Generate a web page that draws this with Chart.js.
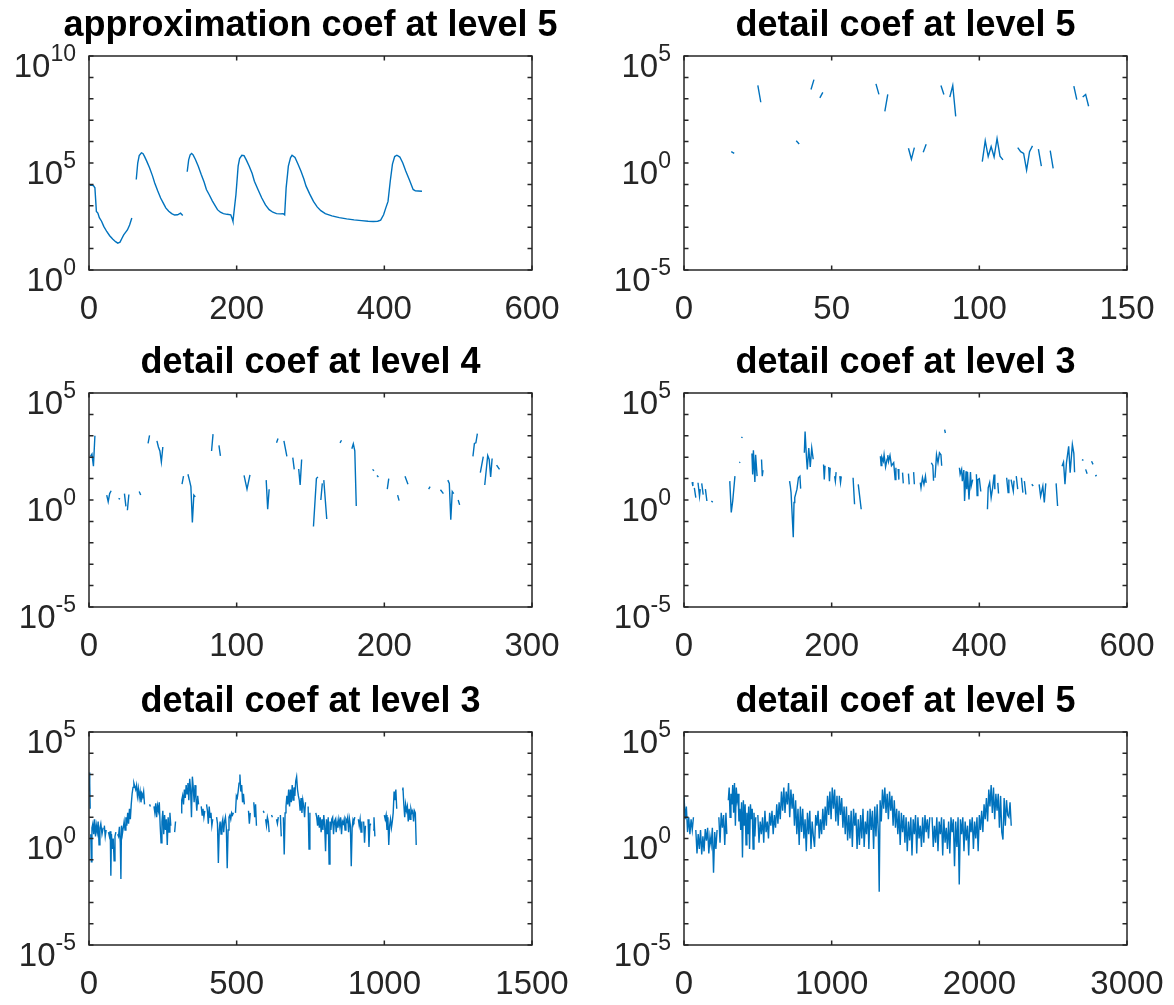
<!DOCTYPE html>
<html>
<head>
<meta charset="utf-8">
<title>Wavelet coefficients</title>
<script src="https://cdn.jsdelivr.net/npm/chart.js@4.4.1/dist/chart.umd.min.js"></script>
<style>
  html, body { margin: 0; padding: 0; background: #fff; }
  body { width: 1174px; height: 1005px; position: relative; overflow: hidden; }
  canvas { position: absolute; }
  #p1 { left: 0;     top: 0; }
  #p2 { left: 587px; top: 0; }
  #p3 { left: 0;     top: 337px; }
  #p4 { left: 587px; top: 337px; }
  #p5 { left: 0;     top: 676px; }
  #p6 { left: 587px; top: 676px; }
</style>
</head>
<body>
<canvas id="p1" width="621" height="337"></canvas>
<canvas id="p2" width="637" height="337"></canvas>
<canvas id="p3" width="621" height="339"></canvas>
<canvas id="p4" width="637" height="339"></canvas>
<canvas id="p5" width="621" height="329"></canvas>
<canvas id="p6" width="637" height="329"></canvas>
<script>
// Panel titles
const titles = [
  'approximation coef at level 5',
  'detail coef at level 5',
  'detail coef at level 4',
  'detail coef at level 3',
  'detail coef at level 3',
  'detail coef at level 5'
];

// Tick values
const approxXTicks = [0, 200, 400, 600];
const lvl5XTicks = [0, 50, 100, 150];
const lvl4XTicks = [0, 100, 200, 300];
const lvl3XTicks = [0, 200, 400, 600];
const lvl3bXTicks = [0, 500, 1000, 1500];
const lvl5bXTicks = [0, 1000, 2000, 3000];
const approxYTicks = [1, 1e5, 1e10];
const detailYTicks = [1e-5, 1, 1e5];

// Coefficient magnitudes as [index, value]; null = negative coefficient (not shown on log axis)
const approx5 = [
  [1,9100],[4,9100],[6,8700],[8,6900],[10,550],[12,460],[14,280],[17,190],[20,110],[24,63],[28,40],[32,28],
  [36,21],[39,18],[42,20],[45,32],[47,44],[50,60],[52,74],[55,126],[58,270],[61,null],
  [64,1.7e4],[66,1e5],[68,2.2e5],[71,3e5],[73,2.8e5],[75,2.1e5],[78,1.26e5],[82,6e4],[86,2.5e4],[89,1.17e4],
  [93,5000],[97,2300],[101,1260],[104,800],[108,560],[112,430],[116,370],[120,380],[124,450],[127,355],[130,null],
  [133,3.9e4],[135,1.4e5],[137,2.4e5],[139,2.8e5],[141,2.4e5],[144,1.5e5],[148,7.1e4],[152,2.9e4],[156,1.26e4],
  [159,5800],[163,3200],[167,1700],[171,1000],[174,660],[178,500],[182,430],[187,400],[192,380],[194,250],[195,190],
  [197,800],[199,3300],[201,2.5e4],[202,7.1e4],[204,1.6e5],[207,2.3e5],[210,2.2e5],[213,1.4e5],[217,7.1e4],
  [221,3.2e4],[224,1.4e4],[229,5600],[234,2300],[239,1100],[244,660],[249,500],[254,430],[259,420],[263,430],
  [265,380],[267,6900],[269,3.2e4],[270,7.1e4],[273,1.8e5],[275,2.3e5],[279,1.8e5],[283,8.9e4],[287,4.2e4],
  [291,1.8e4],[294,8300],[299,3500],[304,1600],[309,890],[314,590],[320,430],[329,340],[339,280],[349,245],
  [359,220],[369,204],[378,190],[385,186],[391,190],[395,214],[399,380],[402,800],[405,1600],[408,1.4e4],
  [411,8.9e4],[414,2e5],[417,2.3e5],[421,1.9e5],[425,1e5],[429,4.2e4],[434,1.6e4],[439,5800],[442,5000],
  [446,4900],[451,4800]
];

const detail5 = [
  [16,3.4],[17,2.8],[20,null],[25,4200],[26,690],[30,null],[38,11],[39,7.8],[40,null],
  [43,2700],[44,7900],[45,null],[46,1100],[47,2000],[50,null],[65,5000],[66,1600],[67,null],
  [68,260],[69,1600],[70,null],[76,4.9],[77,1.5],[78,5.2],[79,null],[81,3.2],[82,7.6],[84,null],
  [87,4200],[88,1600],[89,null],[90,1200],[91,4200],[92,150],[95,null],
  [101,1.15],[102,11],[103,2],[104,5.9],[105,1.9],[106,14],[107,2.1],[108,1.4],[110,null],
  [113,5.2],[114,3.4],[115,2.8],[116,0.47],[117,3.4],[118,6.3],[119,null],
  [120,4.4],[121,0.72],[122,null],[124,3.8],[125,0.56],[128,null],
  [132,3900],[133,910],[134,null],[135,1200],[136,1600],[137,450]
];

const detail4 = [
  [1,110],[2,140],[3,38],[4,1000],[6,null],[12,1.7],[13,0.83],[14,2],[15,2.7],[17,null],
  [20,1.2],[21,1.1],[22,null],[24,2],[25,0.5],[25.5,null],[26,0.33],[27,1.8],[30,null],
  [34,2.5],[35,1.7],[37,null],[40,440],[41,1050],[43,null],[46,580],[47,300],[48,195],[49,60],[50,300],[55,null],
  [63,5.5],[64,13],[65,null],[67,16],[68,8.5],[69,4.2],[70,0.089],[71,1.7],[72,1.4],[75,null],
  [83,195],[84,1200],[86,null],[88,360],[89,115],[95,null],[105,14],[107,3.2],[109,15],[112,null],
  [120,8.5],[121,0.37],[122,3.2],[124,null],[127,470],[128,740],[130,null],[132,580],[134,110],[136,null],
  [138,95],[139,27],[140,null],[142,28],[143,5],[144,78],[148,null],[152,0.058],[154,10],[155,12],[156,null],
  [157,1],[158,6],[158.5,null],[159,8.5],[161,0.13],[165,null],[170,470],[171,620],[175,null],
  [178,250],[179,420],[180,200],[181,0.52],[185,null],[192,27],[193,23],[194,null],[195,14],[196,12],[198,null],
  [202,3.2],[203,10],[205,null],[209,1.7],[210,0.93],[212,null],[214,13],[216,5.5],[220,null],
  [230,3.2],[231,4.2],[235,null],[238,3],[240,2],[241,null],[243,8.5],[244,6],[245,0.12],[246,2.5],[247,2],[248,null],
  [250,1],[251,0.59],[255,null],[260,110],[261,440],[262,470],[263,1260],[264,null],[265,19],[267,105],[267.5,null],
  [268,5],[270,120],[271,78],[272,12],[273,87],[275,null],[276,43],[278,27]
];

const detail3 = [
  [11,6.9],[12,4.5],[13,null],[14,3.7],[16,1.3],[17,null],[19,6.4],[21,1.5],[22,3.2],[23,null],[24,6],[26,1.8],[27,null],
  [29,3.2],[31,0.9],[33,null],[37,0.9],[39,0.8],[45,null],[62,7.6],[64,0.26],[66,0.9],[69,13],[72,null],
  [75,55],[76,60],[77,null],[78,790],[79,900],[85,null],[92,150],[93,15.6],[94,210],[96,7],[97,130],[99,13],[102,null],
  [105,78],[106,13],[107,25],[120,null],[143,7.6],[144,4.5],[145,2.2],[148,0.018],[149,0.76],[150,1.3],[153,3.2],
  [155,11],[157,13],[158,3.4],[160,null],[163,160],[164,1600],[166,80],[167,27],[169,270],[171,35],[173,270],[175,80],[180,null],
  [189,46],[190,9],[191,40],[193,null],[196,35],[197,7.6],[198,32],[200,null],[204,13],[205,7.6],[206,20],[208,null],
  [211,13],[212,6.5],[213,12.6],[220,null],[229,11],[231,0.63],[233,null],[236,5.4],[240,0.37],[250,null],
  [266,110],[267,41],[268,100],[270,65],[271,130],[273,35],[275,80],[276,125],[277,63],[279,120],[281,40],[284,55],
  [286,9],[287,32],[288,null],[290,28],[291,9],[293,null],[296,19],[297,6],[300,null],[304,17],[305,5.4],[308,null],
  [311,20],[312,5.4],[315,null],[320,6.5],[321,3.7],[323,11],[325,5.4],[327,13],[328,6.3],[331,null],
  [335,55],[337,41],[338,8],[339,null],[340,11],[342,130],[344,55],[346,160],[348,130],[349,40],[351,null],
  [353,1950],[354,1350],[360,null],[373,32],[374,16],[376,27],[377,7.6],[379,25],[380,0.9],[382,22],[383,3.2],
  [384,20],[386,1.07],[388,20],[389,4.5],[391,9],[393,null],[396,16],[397,1.6],[398,9],[400,10],[402,2.5],[406,null],
  [411,0.37],[412,3.7],[414,6.5],[416,1.3],[418,3.7],[420,15.5],[421,3.2],[423,null],[425,6.3],[426,2],[430,null],
  [437,11],[439,2.2],[440,9],[441,null],[443,9],[446,2.6],[447,8],[448,null],[450,13],[452,3.2],[454,null],
  [457,11],[459,2.2],[460,null],[461,7.6],[463,1.8],[466,null],[471,5.4],[473,4.5],[476,null],
  [481,5.4],[483,1.5],[486,4.5],[488,0.76],[490,6],[495,null],[504,6],[506,0.52],[509,null],
  [512,38],[514,59],[516,5.4],[518,55],[521,320],[523,19],[526,390],[528,150],[529,20],[533,null],
  [539,78],[541,72],[542,null],[544,27],[546,17],[549,null],[552,65],[554,46],[555,null],[557,13],[559,14.5]
];

const detail3b = [
  [1,1260],[2,160],[3,400],[4,25],[5,null],[6,1.6],[8,0.08],[10,3.2],[13,5],[16,1.6],[19,8],[22,1.26],[25,4],
  [28,2],[31,6.3],[34,0.5],[37,3.2],[40,5],[44,1.6],[48,3.2],[50,null],[52,4],[55,1.26],[58,2.5],[62,null],
  [66,2],[69,1.26],[72,2.2],[74,0.018],[76,1.6],[79,0.32],[82,1],[85,0.089],[88,1.26],[91,2],[94,null],
  [97,1.6],[100,1.26],[103,3.5],[106,0.63],[108,0.0126],[110,4],[113,1.6],[116,3.2],[119,6.3],[122,2.5],
  [125,10],[128,4],[131,16],[134,5],[137,25],[140,8],[143,40],[146,126],[149,250],[152,400],[155,280],[158,200],
  [161,320],[164,100],[167,220],[170,80],[173,160],[176,50],[179,126],[182,89],[185,160],[188,40],[195,null],
  [205,40],[208,32],[214,null],[220,32],[223,16],[226,45],[229,10],[232,35],[235,20],[238,50],[241,4],[244,0.63],
  [247,6.3],[250,20],[253,1.6],[256,12.6],[259,2.5],[262,8],[265,0.5],[268,10],[271,2],[274,16],[277,4],[283,null],
  [290,2],[293,6.3],[300,null],[312,16],[314,63],[317,100],[320,40],[323,200],[326,80],[329,320],[332,126],
  [335,400],[338,63],[341,630],[344,200],[347,10],[350,800],[353,250],[356,50],[359,320],[362,80],[365,20],
  [368,100],[371,40],[375,null],[380,32],[383,12.6],[386,25],[389,10],[392,20],[395,null],[398,40],[401,20],
  [404,5],[407,32],[410,10],[413,16],[416,4],[419,8],[425,null],[432,10],[435,5],[438,0.071],[441,2.5],[444,6.3],
  [447,1.6],[450,5],[453,8],[456,2],[459,6.3],[462,10],[465,3.2],[468,0.04],[471,2.5],[474,10],[477,12.6],[480,8],
  [483,16],[486,12.6],[489,16],[492,null],[496,16],[499,100],[502,80],[505,160],[508,400],[511,1000],[514,160],
  [517,320],[520,50],[523,126],[526,40],[533,null],[540,20],[543,5],[546,16],[552,null],[558,50],[561,10],[564,40],
  [567,4],[580,null],[590,20],[593,16],[595,null],[598,8],[601,4],[604,10],[607,6.3],[610,2],[614,null],[618,12.6],
  [621,10],[628,null],[635,8],[638,5],[641,10],[644,null],[648,12.6],[651,1.26],[654,null],[658,10],[661,0.18],
  [664,16],[667,32],[670,100],[673,40],[676,200],[679,32],[682,200],[685,50],[688,320],[691,63],[694,250],[697,100],
  [700,500],[703,800],[706,200],[709,100],[712,63],[715,20],[718,80],[721,16],[724,63],[727,32],[730,10],[733,50],
  [737,null],[742,32],[745,0.32],[748,16],[758,null],[768,16],[771,10],[774,4],[777,12.6],[780,3.2],[783,10],[786,2],
  [789,8],[792,2.5],[795,12.6],[798,4],[801,0.25],[804,8],[807,1.6],[810,10],[813,0.063],[816,6.3],[819,2.5],[822,8],
  [825,10],[828,1.6],[831,6.3],[834,8],[837,2],[840,6.3],[843,3.2],[846,8],[849,4],[852,10],[855,1.6],[858,6.3],
  [861,5],[864,8],[867,2.5],[870,8],[873,6.3],[876,10],[879,2],[882,8],[885,4],[888,0.05],[891,3.2],[894,8],[897,6.3],
  [900,10],[906,null],[912,8],[915,4],[918,8],[921,2],[924,6.3],[927,null],[930,6.3],[933,0.63],[936,4],[940,null],
  [945,8],[948,0.4],[951,4],[954,5],[958,null],[962,2.5],[965,10],[968,1.26],[985,null],[1000,12.6],[1003,8],
  [1006,12.6],[1009,2.5],[1012,10],[1015,0.5],[1018,4],[1021,8],[1024,3.2],[1027,6.3],[1030,16],[1033,160],[1036,63],
  [1039,200],[1042,25],[1050,null],[1060,200],[1063,250],[1066,40],[1069,10],[1072,40],[1075,20],[1078,32],[1081,6.3],
  [1084,25],[1087,8],[1090,25],[1093,16],[1096,20],[1099,6.3],[1102,20],[1105,16],[1108,0.5]
];

const detail5b = [
  [0,100],[8,8],[16,32],[24,2],[32,10],[40,1.6],[48,8],[56,2.5],[64,10],[72,null],
  [80,2.5],[88,0.2],[96,1.6],[104,0.32],[112,2.5],[120,0.18],[128,1.26],[136,0.25],[144,2.8],[152,0.8],
  [160,3.2],[168,0.2],[176,1.26],[184,0.5],[192,3.2],[200,0.025],[208,2],[216,0.32],[224,2.5],[230,null],
  [236,10],[244,0.63],[252,16],[260,3.2],[268,12.6],[276,0.5],[284,16],[290,1.6],[295,null],
  [300,63],[306,250],[312,10],[318,126],[324,40],[330,320],[336,16],[342,400],[348,4],[354,250],[360,63],
  [366,126],[372,6.3],[378,25],[384,2.5],[390,50],[396,0.13],[402,63],[408,4],[414,40],[420,0.5],[426,16],
  [432,1.6],[438,32],[444,0.32],[450,40],[456,8],[462,25],[468,0.32],[474,16],[480,1.26],[486,10],[493,null],
  [500,12.6],[508,0.63],[516,6.3],[524,1.6],[532,10],[540,0.63],[548,20],[556,2],[564,6.3],[572,1],[580,16],
  [588,4],[596,20],[604,1.6],[612,12.6],[620,3.2],[628,40],[636,5],[644,50],[652,8],[660,160],[668,20],
  [676,250],[684,16],[692,160],[700,40],[708,400],[716,10],[724,200],[732,25],[740,126],[748,4],[756,63],
  [764,1.6],[772,25],[780,0.5],[788,32],[796,2],[804,25],[812,1],[820,8],[828,0.25],[836,16],[844,1.6],
  [852,20],[860,0.32],[868,6.3],[876,1.26],[884,0.4],[892,12.6],[900,4],[908,20],[916,1],[924,8],[932,1.6],
  [940,25],[948,2.5],[956,32],[964,4],[972,100],[980,12.6],[988,160],[996,8],[1004,250],[1012,25],[1020,200],
  [1028,6.3],[1036,100],[1044,4],[1052,100],[1060,12.6],[1068,80],[1076,3.2],[1084,32],[1092,1.6],[1100,32],
  [1108,0.8],[1116,12.6],[1124,1],[1132,20],[1140,0.4],[1148,25],[1156,4],[1164,16],[1172,0.32],[1180,8],
  [1188,0.5],[1196,12.6],[1204,1],[1212,25],[1220,0.4],[1228,6.3],[1236,1.6],[1244,20],[1252,0.32],[1260,25],
  [1268,2.5],[1276,20],[1284,0.32],[1292,32],[1300,1.26],[1308,40],[1316,2],[1322,0.0032],[1328,63],[1336,6.3],
  [1344,200],[1352,25],[1360,250],[1368,16],[1376,126],[1384,8],[1392,160],[1400,20],[1408,100],[1416,4],
  [1424,63],[1432,3.2],[1440,25],[1448,1.6],[1456,20],[1464,0.5],[1472,16],[1480,2],[1488,12.6],[1496,0.63],
  [1504,10],[1512,0.25],[1520,6.3],[1528,0.8],[1536,10],[1544,0.16],[1552,8],[1560,1.6],[1568,12.6],[1576,0.2],
  [1584,10],[1592,1],[1600,4],[1608,0.4],[1616,10],[1624,0.63],[1632,12.6],[1640,2],[1648,8],[1656,1],
  [1664,10],[1672,null],[1680,10],[1688,0.4],[1696,4],[1704,0.63],[1712,10],[1720,0.25],[1728,6.3],[1736,1.6],
  [1744,10],[1752,0.16],[1760,8],[1768,0.63],[1776,3.2],[1784,0.32],[1792,6.3],[1800,0.2],[1808,10],[1816,2],
  [1824,8],[1832,0.05],[1840,6.3],[1848,0.4],[1856,10],[1864,0.007],[1872,8],[1880,1.6],[1888,10],[1896,0.25],
  [1904,6.3],[1912,0.8],[1920,4],[1928,0.16],[1936,8],[1944,2],[1952,10],[1960,0.32],[1968,6.3],[1976,1],
  [1984,10],[1992,0.25],[2000,12.6],[2008,2.5],[2016,20],[2024,2],[2032,40],[2040,8],[2048,80],[2056,6.3],
  [2064,200],[2072,32],[2080,320],[2088,16],[2096,250],[2104,8],[2112,126],[2120,20],[2128,126],[2136,3.2],
  [2144,100],[2152,2],[2160,0.89],[2168,80],[2176,4],[2184,63],[2192,12.6],[2200,10],[2208,50],[2216,4]
];

const FONT = "'Liberation Sans', Arial, Helvetica, sans-serif";
const AXIS = '#262626';
const LINE = '#0072BD';
Chart.defaults.font.family = FONT;

function decadeTicks(lo, hi) {
  const out = [];
  for (let e = Math.round(Math.log10(lo)); e <= Math.round(Math.log10(hi)); e++) out.push({ value: Math.pow(10, e) });
  return out;
}

// Axes box, inward tick marks on all four sides, and 10^n labels on the log axis
const frame = {
  id: 'frame',
  afterDatasetsDraw(chart, args, opts) {
    const { ctx, chartArea: a } = chart;
    const xs = chart.scales.x, ys = chart.scales.y;
    const TL = 4.5;
    ctx.save();
    ctx.strokeStyle = AXIS;
    ctx.lineWidth = 1.5;
    ctx.beginPath();
    xs.ticks.forEach(t => {
      const px = xs.getPixelForValue(t.value);
      ctx.moveTo(px, a.bottom); ctx.lineTo(px, a.bottom - TL);
      ctx.moveTo(px, a.top); ctx.lineTo(px, a.top + TL);
    });
    ys.ticks.forEach(t => {
      const py = ys.getPixelForValue(t.value);
      ctx.moveTo(a.left, py); ctx.lineTo(a.left + TL, py);
      ctx.moveTo(a.right, py); ctx.lineTo(a.right - TL, py);
    });
    ctx.stroke();
    ctx.strokeRect(a.left, a.top, a.right - a.left, a.bottom - a.top);

    ctx.fillStyle = AXIS;
    ctx.textAlign = 'right';
    ctx.textBaseline = 'alphabetic';
    (opts.yLabels || []).forEach(v => {
      const py = ys.getPixelForValue(v);
      const exp = String(Math.round(Math.log10(v)));
      const xr = a.left - 13;
      ctx.font = '23px ' + FONT;
      const sw = ctx.measureText(exp).width;
      ctx.fillText(exp, xr, py + 4.7);
      ctx.font = '33px ' + FONT;
      ctx.fillText('10', xr - sw, py + 20.8);
    });
    ctx.restore();
  }
};

// Each canvas is centred on its axes (x 89..532 or 684..1127) so the full-width title sits over the box centre;
// an empty right-hand scale reserves the margin on the right.
function makePanel(id, title, points, xTicks, yTicks, col, xAxisH) {
  const sideW = col === 0 ? 89 : 97;
  new Chart(document.getElementById(id), {
    type: 'line',
    data: {
      datasets: [{
        data: points.map(p => ({ x: p[0], y: p[1] })),
        borderColor: LINE,
        borderWidth: 1.4,
        pointRadius: 0,
        tension: 0,
        spanGaps: false,
        fill: false
      }]
    },
    options: {
      responsive: false,
      animation: false,
      events: [],
      layout: { padding: 0 },
      plugins: {
        legend: { display: false },
        tooltip: { enabled: false },
        title: {
          display: true,
          text: title,
          color: '#000',
          font: { size: 36, weight: 'bold', lineHeight: 1.2 },
          padding: { top: 4, bottom: 8.8 }
        },
        frame: { yLabels: yTicks }
      },
      scales: {
        x: {
          type: 'linear',
          min: xTicks[0],
          max: xTicks[xTicks.length - 1],
          grid: { display: false, drawTicks: false },
          border: { display: false },
          afterBuildTicks: s => { s.ticks = xTicks.map(v => ({ value: v })); },
          afterFit: s => { s.height = xAxisH; },
          ticks: {
            color: AXIS,
            font: { size: 33 },
            padding: 20,
            maxRotation: 0,
            autoSkip: false,
            callback: v => String(v)
          }
        },
        y: {
          type: 'logarithmic',
          position: 'left',
          min: yTicks[0],
          max: yTicks[yTicks.length - 1],
          grid: { display: false, drawTicks: false },
          border: { display: false },
          afterBuildTicks: s => { s.ticks = decadeTicks(yTicks[0], yTicks[yTicks.length - 1]); },
          afterFit: s => { s.width = sideW; },
          ticks: { display: false }
        },
        margin: {
          type: 'linear',
          position: 'right',
          grid: { display: false, drawTicks: false },
          border: { display: false },
          afterFit: s => { s.width = sideW; },
          ticks: { display: false }
        }
      }
    },
    plugins: [frame]
  });
}

makePanel('p1', titles[0], approx5,  approxXTicks, approxYTicks, 0, 67);
makePanel('p2', titles[1], detail5,  lvl5XTicks,   detailYTicks, 1, 67);
makePanel('p3', titles[2], detail4,  lvl4XTicks,   detailYTicks, 0, 69);
makePanel('p4', titles[3], detail3,  lvl3XTicks,   detailYTicks, 1, 69);
makePanel('p5', titles[4], detail3b, lvl3bXTicks,  detailYTicks, 0, 60);
makePanel('p6', titles[5], detail5b, lvl5bXTicks,  detailYTicks, 1, 60);
</script>
</body>
</html>
